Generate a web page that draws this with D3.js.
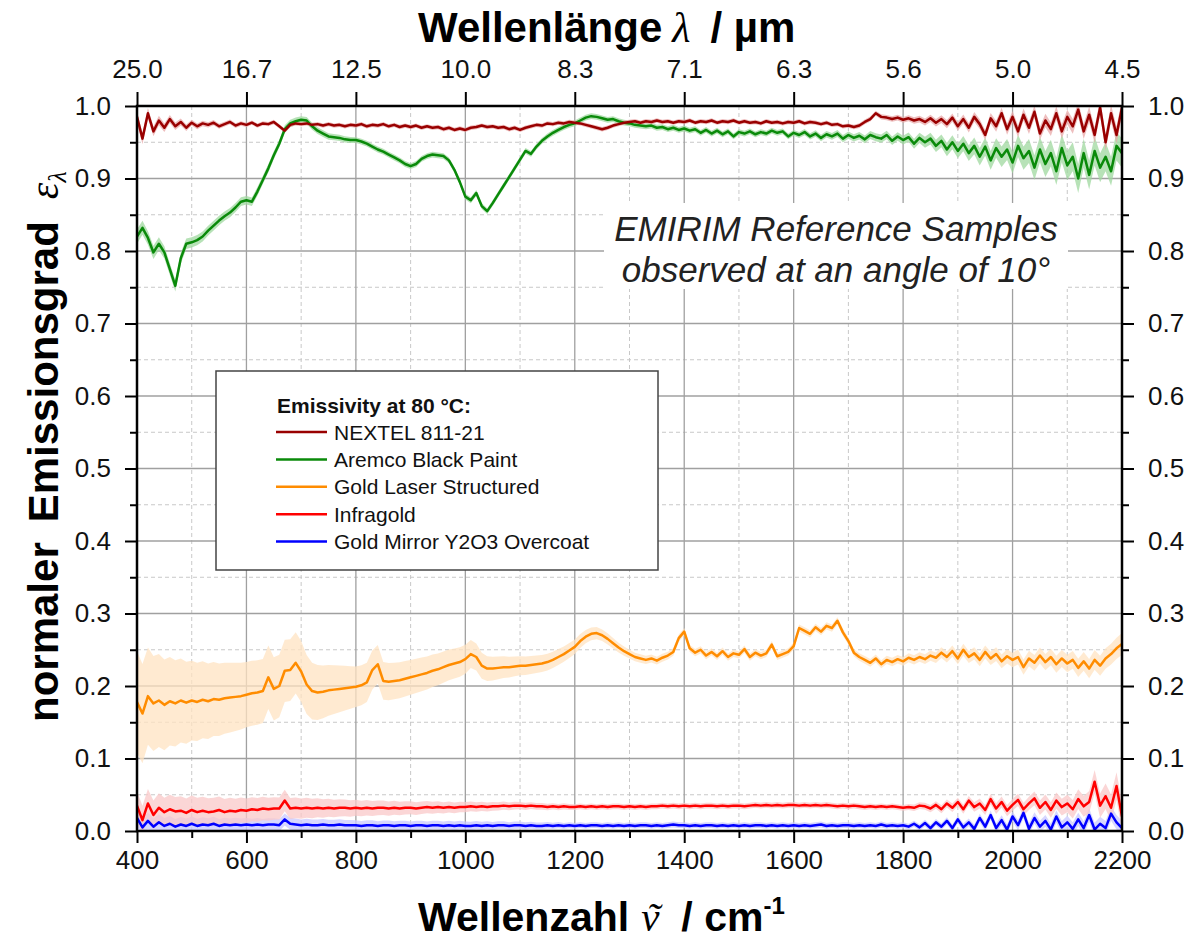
<!DOCTYPE html>
<html><head><meta charset="utf-8">
<script src="https://cdn.jsdelivr.net/npm/d3@7"></script>
<style>body{margin:0;background:#fff}svg{display:block}text{font-family:"Liberation Sans",Arial,sans-serif}</style>
</head><body><svg id="c" width="1191" height="944"></svg>
<script>
// ---------- DATA ----------
const wavenumber = d3.range(400, 2201, 10); // cm^-1 grid
const nextel = [
0.985,0.955,0.990,0.965,0.980,0.970,0.982,0.972,0.978,0.970,
0.977,0.972,0.976,0.974,0.977,0.972,0.975,0.978,0.973,0.976,
0.974,0.977,0.973,0.976,0.975,0.978,0.972,0.966,0.974,0.976,
0.975,0.976,0.974,0.975,0.973,0.975,0.973,0.974,0.972,0.974,
0.973,0.975,0.972,0.974,0.973,0.975,0.972,0.974,0.971,0.973,
0.971,0.973,0.970,0.972,0.970,0.971,0.968,0.970,0.967,0.969,
0.967,0.970,0.971,0.973,0.971,0.972,0.970,0.971,0.968,0.970,
0.967,0.970,0.972,0.974,0.973,0.976,0.975,0.977,0.976,0.978,
0.977,0.976,0.974,0.972,0.970,0.968,0.970,0.973,0.975,0.977,
0.978,0.979,0.977,0.979,0.978,0.980,0.978,0.979,0.977,0.979,
0.978,0.980,0.977,0.979,0.978,0.980,0.977,0.979,0.978,0.980,
0.977,0.979,0.977,0.978,0.976,0.979,0.977,0.978,0.976,0.978,
0.977,0.979,0.976,0.978,0.977,0.975,0.977,0.974,0.975,0.972,
0.973,0.971,0.973,0.978,0.982,0.990,0.985,0.984,0.982,0.984,
0.981,0.983,0.980,0.982,0.978,0.983,0.977,0.982,0.975,0.984,
0.972,0.982,0.970,0.985,0.975,0.960,0.983,0.972,0.990,0.968,
0.985,0.965,0.988,0.970,0.992,0.962,0.980,0.968,0.990,0.965,
0.985,0.972,0.995,0.965,0.988,0.960,0.998,0.950,0.990,0.960,
0.998];
const aremco = [
0.820,0.832,0.818,0.798,0.810,0.798,0.775,0.752,0.790,0.810,
0.812,0.815,0.820,0.828,0.835,0.842,0.848,0.853,0.860,0.868,
0.870,0.868,0.882,0.898,0.914,0.932,0.948,0.968,0.976,0.979,
0.981,0.980,0.972,0.966,0.962,0.958,0.957,0.956,0.954,0.953,
0.953,0.951,0.948,0.944,0.940,0.937,0.933,0.929,0.925,0.920,
0.917,0.920,0.927,0.931,0.933,0.932,0.931,0.925,0.912,0.895,
0.875,0.870,0.880,0.862,0.855,0.866,0.878,0.890,0.902,0.914,
0.926,0.938,0.934,0.944,0.952,0.958,0.963,0.967,0.971,0.974,
0.976,0.980,0.984,0.986,0.985,0.983,0.981,0.982,0.979,0.977,
0.976,0.974,0.973,0.972,0.973,0.970,0.971,0.968,0.970,0.967,
0.969,0.966,0.968,0.963,0.967,0.962,0.966,0.961,0.965,0.958,
0.964,0.962,0.965,0.961,0.964,0.962,0.966,0.963,0.965,0.958,
0.963,0.960,0.964,0.958,0.962,0.956,0.961,0.958,0.962,0.955,
0.960,0.956,0.959,0.954,0.960,0.957,0.955,0.960,0.952,0.958,
0.953,0.957,0.948,0.956,0.950,0.955,0.945,0.952,0.940,0.950,
0.938,0.948,0.935,0.945,0.930,0.944,0.925,0.942,0.930,0.940,
0.922,0.945,0.928,0.938,0.915,0.940,0.920,0.935,0.910,0.942,
0.918,0.930,0.900,0.935,0.905,0.938,0.915,0.930,0.910,0.945,
0.935];
const goldLaser = [
0.178,0.162,0.186,0.176,0.180,0.174,0.179,0.176,0.180,0.177,
0.180,0.178,0.181,0.179,0.182,0.181,0.183,0.184,0.185,0.186,
0.188,0.190,0.191,0.193,0.212,0.196,0.200,0.221,0.222,0.232,
0.220,0.202,0.193,0.191,0.192,0.194,0.195,0.196,0.197,0.198,
0.199,0.201,0.205,0.222,0.230,0.207,0.206,0.207,0.208,0.210,
0.212,0.214,0.216,0.218,0.221,0.223,0.226,0.229,0.231,0.233,
0.237,0.244,0.240,0.228,0.224,0.224,0.225,0.226,0.226,0.227,
0.228,0.228,0.229,0.230,0.231,0.233,0.236,0.240,0.244,0.249,
0.254,0.262,0.268,0.272,0.273,0.270,0.265,0.259,0.253,0.248,
0.244,0.240,0.238,0.236,0.238,0.235,0.239,0.242,0.247,0.266,
0.275,0.252,0.246,0.250,0.242,0.247,0.241,0.248,0.240,0.245,
0.243,0.251,0.240,0.246,0.242,0.245,0.257,0.241,0.244,0.247,
0.255,0.280,0.276,0.272,0.281,0.275,0.283,0.280,0.290,0.274,
0.262,0.246,0.240,0.236,0.232,0.238,0.230,0.236,0.233,0.237,
0.234,0.239,0.236,0.240,0.237,0.242,0.239,0.246,0.240,0.248,
0.238,0.250,0.240,0.245,0.236,0.247,0.238,0.244,0.234,0.241,
0.236,0.240,0.226,0.238,0.232,0.242,0.233,0.240,0.230,0.238,
0.231,0.236,0.225,0.234,0.224,0.236,0.228,0.238,0.244,0.252,
0.258];
const infragold = [
0.035,0.015,0.038,0.022,0.032,0.026,0.030,0.027,0.028,0.025,
0.029,0.026,0.028,0.026,0.027,0.029,0.026,0.028,0.027,0.029,
0.028,0.030,0.029,0.031,0.030,0.031,0.031,0.042,0.031,0.032,
0.031,0.032,0.031,0.032,0.031,0.032,0.031,0.032,0.032,0.031,
0.032,0.031,0.032,0.031,0.032,0.032,0.031,0.032,0.031,0.032,
0.032,0.031,0.032,0.033,0.032,0.033,0.032,0.033,0.032,0.033,
0.033,0.034,0.033,0.034,0.033,0.034,0.034,0.035,0.034,0.035,
0.035,0.034,0.035,0.034,0.034,0.033,0.034,0.033,0.034,0.033,
0.033,0.034,0.033,0.034,0.033,0.034,0.033,0.034,0.034,0.033,
0.034,0.033,0.034,0.033,0.034,0.034,0.035,0.034,0.035,0.034,
0.035,0.034,0.035,0.034,0.035,0.035,0.034,0.035,0.034,0.035,
0.035,0.034,0.035,0.036,0.035,0.036,0.035,0.036,0.035,0.036,
0.036,0.035,0.036,0.035,0.036,0.035,0.036,0.035,0.034,0.035,
0.034,0.035,0.034,0.033,0.034,0.033,0.034,0.033,0.034,0.033,
0.032,0.033,0.032,0.035,0.034,0.031,0.036,0.030,0.038,0.032,
0.040,0.030,0.042,0.033,0.038,0.029,0.044,0.031,0.040,0.028,
0.036,0.043,0.030,0.038,0.045,0.032,0.040,0.029,0.042,0.033,
0.038,0.030,0.044,0.034,0.040,0.068,0.035,0.048,0.032,0.062,
0.020];
const goldMirror = [
0.018,0.005,0.014,0.006,0.012,0.007,0.010,0.006,0.009,0.007,
0.010,0.007,0.009,0.008,0.010,0.007,0.009,0.008,0.009,0.008,
0.009,0.008,0.009,0.008,0.009,0.009,0.008,0.016,0.010,0.009,
0.008,0.009,0.008,0.008,0.009,0.008,0.008,0.009,0.008,0.008,
0.008,0.007,0.008,0.008,0.007,0.008,0.008,0.007,0.008,0.008,
0.007,0.008,0.008,0.007,0.008,0.008,0.007,0.008,0.007,0.008,
0.007,0.007,0.008,0.007,0.008,0.007,0.008,0.008,0.007,0.008,
0.008,0.007,0.008,0.007,0.007,0.008,0.007,0.008,0.007,0.008,
0.007,0.008,0.007,0.008,0.008,0.007,0.008,0.007,0.008,0.007,
0.008,0.007,0.008,0.008,0.007,0.008,0.007,0.008,0.009,0.008,
0.008,0.007,0.008,0.007,0.008,0.008,0.007,0.008,0.007,0.008,
0.007,0.008,0.007,0.008,0.008,0.007,0.008,0.007,0.008,0.007,
0.008,0.007,0.008,0.007,0.008,0.009,0.007,0.008,0.007,0.008,
0.008,0.007,0.008,0.007,0.008,0.007,0.009,0.007,0.008,0.007,
0.008,0.006,0.010,0.005,0.011,0.004,0.012,0.006,0.014,0.004,
0.016,0.005,0.012,0.003,0.018,0.006,0.022,0.004,0.015,0.002,
0.020,0.008,0.025,0.003,0.018,0.006,0.014,0.002,0.020,0.005,
0.012,0.003,0.016,0.004,0.022,0.002,0.010,0.004,0.024,0.012,
0.004];
// uncertainty half-widths on a coarse grid
const bandNu = [400,500,600,700,800,900,1000,1100,1200,1300,1400,1500,1600,1700,1800,1900,2000,2100,2200];
const nextelHW   = [0.008,0.004,0.003,0.003,0.003,0.003,0.003,0.003,0.003,0.003,0.003,0.003,0.003,0.003,0.004,0.006,0.008,0.010,0.012];
const aremcoHW   = [0.010,0.007,0.006,0.005,0.004,0.004,0.004,0.004,0.004,0.004,0.004,0.004,0.004,0.005,0.006,0.010,0.015,0.020,0.020];
const goldLaserHW= [0.070,0.055,0.045,0.042,0.028,0.024,0.020,0.013,0.010,0.006,0.005,0.005,0.005,0.005,0.006,0.008,0.010,0.012,0.015];
const infragoldHW= [0.020,0.020,0.017,0.014,0.011,0.009,0.007,0.005,0.004,0.004,0.004,0.004,0.004,0.004,0.004,0.006,0.008,0.012,0.020];
const goldMirrorHW=[0.012,0.010,0.009,0.008,0.007,0.006,0.006,0.005,0.004,0.004,0.004,0.004,0.004,0.004,0.004,0.005,0.007,0.009,0.010];

const seriesNames = ["NEXTEL 811-21","Aremco Black Paint","Gold Laser Structured","Infragold","Gold Mirror Y2O3 Overcoat"];
const seriesColors = ["#990000","#0a8a0a","#ff8c00","#ff0000","#0000ff"];
const bandColors = ["#e8a8a8","#9fd89f","#ffe3c2","#fac8c8","#c8c8ff"];
const xTicksMajor = [400,600,800,1000,1200,1400,1600,1800,2000,2200];
const xTicksMinor = [500,700,900,1100,1300,1500,1700,1900,2100];
const yTicksMajor = [0,0.1,0.2,0.3,0.4,0.5,0.6,0.7,0.8,0.9,1.0];
const yTicksMinor = [0.05,0.15,0.25,0.35,0.45,0.55,0.65,0.75,0.85,0.95];

// ---------- CHART ----------
const svg = d3.select("#c");
const X0=137, X1=1122, Y0=106, Y1=831;
const x = d3.scaleLinear([400,2200],[X0,X1]);
const y = d3.scaleLinear([0,1],[Y1,Y0]);
const FS = 26;

// grid
const g = svg.append("g");
g.selectAll(".vmin").data(xTicksMinor).join("line")
 .attr("x1",d=>x(d)).attr("x2",d=>x(d)).attr("y1",Y0).attr("y2",Y1)
 .attr("stroke","#c8c8c8").attr("stroke-width",1).attr("stroke-dasharray","4,3");
g.selectAll(".hmin").data(yTicksMinor).join("line")
 .attr("y1",d=>y(d)).attr("y2",d=>y(d)).attr("x1",X0).attr("x2",X1)
 .attr("stroke","#c8c8c8").attr("stroke-width",1).attr("stroke-dasharray","4,3");
g.selectAll(".vmaj").data(xTicksMajor.slice(1,-1)).join("line")
 .attr("x1",d=>x(d)).attr("x2",d=>x(d)).attr("y1",Y0).attr("y2",Y1)
 .attr("stroke","#a0a0a0").attr("stroke-width",1.3);
g.selectAll(".hmaj").data(yTicksMajor.slice(1,-1)).join("line")
 .attr("y1",d=>y(d)).attr("y2",d=>y(d)).attr("x1",X0).attr("x2",X1)
 .attr("stroke","#a0a0a0").attr("stroke-width",1.3);

// annotation background
svg.append("rect").attr("x",604).attr("y",203).attr("width",464).attr("height",86).attr("fill","#fff");

// clip
svg.append("clipPath").attr("id","clip").append("rect").attr("x",X0).attr("y",Y0).attr("width",X1-X0).attr("height",Y1-Y0);
const plot = svg.append("g").attr("clip-path","url(#clip)");

const dataSets = [nextel, aremco, goldLaser, infragold, goldMirror];
const hwSets = [nextelHW, aremcoHW, goldLaserHW, infragoldHW, goldMirrorHW];
const drawOrder = [2,4,3,1,0];
drawOrder.forEach(k=>{
  const hw = d3.scaleLinear(bandNu, hwSets[k]);
  const area = d3.area().x((d,i)=>x(wavenumber[i])).y0((d,i)=>y(d-hw(wavenumber[i]))).y1((d,i)=>y(d+hw(wavenumber[i])));
  plot.append("path").datum(dataSets[k]).attr("d",area).attr("fill",bandColors[k]).attr("opacity",0.75);
});
drawOrder.forEach(k=>{
  const line = d3.line().x((d,i)=>x(wavenumber[i])).y(d=>y(d));
  plot.append("path").datum(dataSets[k]).attr("d",line).attr("fill","none")
   .attr("stroke",seriesColors[k]).attr("stroke-width",2.5).attr("stroke-linejoin","round");
});

// axes
function styleAxis(sel){ sel.select(".domain").remove(); sel.selectAll("line").attr("stroke","#000").attr("stroke-width",2);
  sel.selectAll("text").attr("font-size",FS).attr("fill","#111").attr("font-family","Liberation Sans, Arial, sans-serif"); }
const fmtY = d3.format(".1f");
svg.append("g").attr("transform",`translate(${X0},0)`).call(d3.axisLeft(y).tickValues(yTicksMajor).tickSize(12).tickPadding(14).tickFormat(fmtY)).call(styleAxis);
svg.append("g").attr("transform",`translate(${X0},0)`).call(d3.axisLeft(y).tickValues(yTicksMinor).tickSize(7).tickFormat("")).call(styleAxis);
svg.append("g").attr("transform",`translate(${X1},0)`).call(d3.axisRight(y).tickValues(yTicksMajor).tickSize(12).tickPadding(14).tickFormat(fmtY)).call(styleAxis);
svg.append("g").attr("transform",`translate(${X1},0)`).call(d3.axisRight(y).tickValues(yTicksMinor).tickSize(7).tickFormat("")).call(styleAxis);
svg.append("g").attr("transform",`translate(0,${Y1})`).call(d3.axisBottom(x).tickValues(xTicksMajor).tickSize(12).tickPadding(8).tickFormat(d3.format("d"))).call(styleAxis);
svg.append("g").attr("transform",`translate(0,${Y1})`).call(d3.axisBottom(x).tickValues(xTicksMinor).tickSize(7).tickFormat("")).call(styleAxis);
svg.append("g").attr("transform",`translate(0,${Y0})`).call(d3.axisTop(x).tickValues(xTicksMajor).tickSize(14).tickPadding(14).tickFormat(d=>d3.format(".1f")(10000/d))).call(styleAxis);
// frame
svg.append("rect").attr("x",X0).attr("y",Y0).attr("width",X1-X0).attr("height",Y1-Y0).attr("fill","none").attr("stroke","#000").attr("stroke-width",2.5);

// annotation
const ann = svg.append("text").attr("font-size",35).attr("font-style","italic").attr("text-anchor","middle").attr("fill","#222");
ann.append("tspan").attr("x",836).attr("y",241).text("EMIRIM Reference Samples");
ann.append("tspan").attr("x",836).attr("y",282).text("observed at an angle of 10°");

// legend
const L = svg.append("g");
L.append("rect").attr("x",216).attr("y",371).attr("width",442).attr("height",199).attr("fill","#fff").attr("stroke","#444").attr("stroke-width",1.5);
L.append("text").attr("x",277).attr("y",413).attr("font-size",21).attr("font-weight","bold").attr("fill","#111").text("Emissivity at 80 °C:");
seriesNames.forEach((n,i)=>{
  const yy = 432 + i*27.4;
  L.append("line").attr("x1",276).attr("x2",327).attr("y1",yy).attr("y2",yy).attr("stroke",seriesColors[i]).attr("stroke-width",2.5);
  L.append("text").attr("x",334).attr("y",yy+7.5).attr("font-size",21).attr("fill","#111").text(n);
});

// axis titles
const serif = "Liberation Serif, DejaVu Serif, serif";
const tt = svg.append("text").attr("x",418).attr("y",42).attr("font-size",42).attr("font-weight","bold").attr("fill","#000");
tt.append("tspan").text("Wellenlänge");
tt.append("tspan").attr("dx",10).attr("font-family",serif).attr("font-style","italic").attr("font-weight","normal").text("λ");
tt.append("tspan").attr("dx",20).text("/ µm");

const bt = svg.append("text").attr("x",418).attr("y",931).attr("font-size",41).attr("font-weight","bold").attr("fill","#000");
bt.append("tspan").text("Wellenzahl");
const nuSpan = bt.append("tspan").attr("dx",12).attr("font-family",serif).attr("font-style","italic").attr("font-weight","normal").text("ν");
const tilSpan = bt.append("tspan").attr("font-family",serif).attr("font-style","italic").attr("font-weight","normal").text("\u02DC");
const restSpan = bt.append("tspan").text("/ cm");
bt.append("tspan").attr("font-size",24).attr("dy",-17).text("-1");
const w1 = nuSpan.node().getComputedTextLength(), w2 = tilSpan.node().getComputedTextLength();
tilSpan.attr("dx", -(w1+w2)/2 + 3);
restSpan.attr("dx", w1/2 - w2/2 + 19);

const lt = svg.append("text").attr("transform","translate(58,722) rotate(-90)").attr("font-size",42).attr("font-weight","bold").attr("fill","#000");
lt.append("tspan").text("normaler");
lt.append("tspan").attr("dx",20).text("Emissionsgrad");
lt.append("tspan").attr("dx",22).attr("font-family",serif).attr("font-style","italic").attr("font-weight","normal").text("ε");
lt.append("tspan").attr("font-family",serif).attr("font-style","italic").attr("font-weight","normal").attr("font-size",26).attr("dy",8).text("λ");
</script></body></html>
